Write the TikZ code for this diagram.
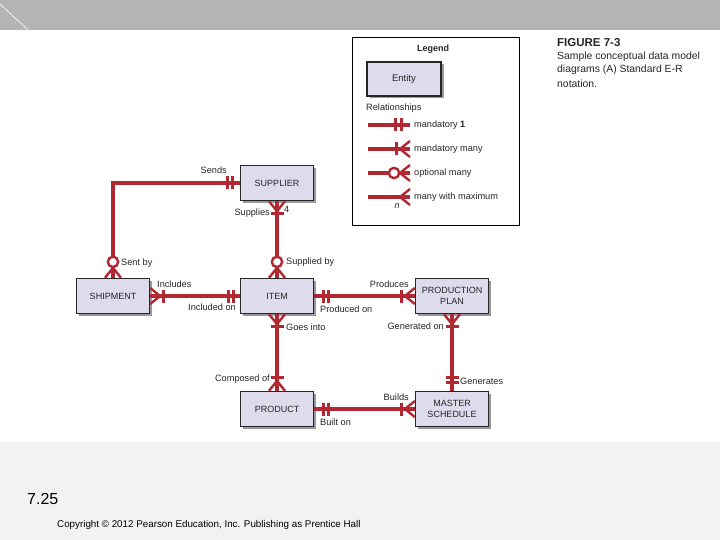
\documentclass[tikz,border=0pt]{standalone}
\usepackage{fontspec}
\setmainfont{Liberation Sans}
\usetikzlibrary{calc,shadows}
\definecolor{erred}{RGB}{178,40,50}
\definecolor{entfill}{RGB}{221,219,236}
\definecolor{topbar}{RGB}{180,180,180}
\definecolor{botbg}{RGB}{242,242,242}
% crow's foot: #1 anchor, (#2,#3) direction away from entity
\newcommand\cf[3]{\draw[foot] ($(#1)+({10*(#2)},{10*(#3)})$) -- ($(#1)+({8*(#3)},{8*(#2)})$) ($(#1)+({10*(#2)},{10*(#3)})$) -- ($(#1)+({-8*(#3)},{-8*(#2)})$);}
% bar: #1 anchor, #2 distance, (#3,#4) direction
\newcommand\rb[4]{\draw[barst] ($(#1)+({#2*(#3)+6.5*(#4)},{#2*(#4)+6.5*(#3)})$) -- ($(#1)+({#2*(#3)-6.5*(#4)},{#2*(#4)-6.5*(#3)})$);}
% circle: #1 anchor, #2 distance, (#3,#4) direction
\newcommand\oc[4]{\draw[foot, fill=white] ($(#1)+({#2*(#3)},{#2*(#4)})$) circle[radius=5.2pt];}
\begin{document}
\begin{tikzpicture}[x=1pt,y=-1pt,
  ent/.style={draw=black!85, line width=1.3pt, fill=entfill, minimum width=73pt, minimum height=35pt, inner sep=1pt, align=center, text=black!85, font=\fontsize{9}{10.5}\selectfont, drop shadow={shadow xshift=2.5pt, shadow yshift=-2.5pt, fill=black!40, opacity=1}},
  rel/.style={draw=erred, line width=3.1pt},
  foot/.style={draw=erred, line width=2.4pt},
  barst/.style={draw=erred, line width=3pt},
  lbl/.style={font=\fontsize{9.2}{10}\selectfont, inner sep=0pt, text=black!85},
  captxt/.style={font=\fontsize{10.4}{12}\selectfont, inner sep=0pt, anchor=west, text=black!85},
]
\useasboundingbox (0,0) rectangle (720,540);
% background
\fill[white] (0,0) rectangle (720,540);
\fill[topbar] (0,0) rectangle (720,30);
\draw[white!85!topbar, line width=0.8pt] (0,4) -- (28,30);
\fill[botbg] (0,442) rectangle (720,540);

% legend
\draw[black, line width=0.9pt] (352,37) rectangle (519,225);
\node[lbl, font=\bfseries\fontsize{9}{10}\selectfont] (leg) at (433,49) {Legend};
\node[ent, minimum width=74pt, minimum height=34pt, font=\fontsize{9.5}{11}\selectfont] (lent) at (404,79) {Entity};
\node[lbl, anchor=west] (lrel) at (366,108) {Relationships};
\coordinate (l1s) at (368,125); \coordinate (l1) at (410,125);
\coordinate (l2s) at (368,149); \coordinate (l2) at (410,149);
\coordinate (l3s) at (368,173); \coordinate (l3) at (410,173);
\coordinate (l4s) at (368,197); \coordinate (l4) at (410,197);
\draw[rel] (l1s) -- (l1); \rb{l1}{9}{-1}{0} \rb{l1}{15}{-1}{0}
\draw[rel] (l2s) -- (l2); \cf{l2}{-1}{0} \rb{l2}{14}{-1}{0}
\draw[rel] (l3s) -- (l3); \cf{l3}{-1}{0} \oc{l3}{16}{-1}{0}
\draw[rel] (l4s) -- (l4); \cf{l4}{-1}{0}
\node[lbl, anchor=west] at (414,125) {mandatory \textbf{1}};
\node[lbl, anchor=west] at (414,149) {mandatory many};
\node[lbl, anchor=west] at (414,173) {optional many};
\node[lbl, anchor=west] at (414,197) {many with maximum};
\node[lbl, font=\itshape\fontsize{9}{10}\selectfont] at (397,206) {n};

% caption
\node[captxt, font=\bfseries\fontsize{11.5}{13}\selectfont] at (557,43) {FIGURE 7-3};
\node[captxt] at (557,56.5) {Sample conceptual data model};
\node[captxt] at (557,70) {diagrams (A) Standard E-R};
\node[captxt] at (557,83.5) {notation.};

% entities
\node[ent] (sup) at (277,183) {SUPPLIER};
\node[ent] (shp) at (113,296) {SHIPMENT};
\node[ent] (item) at (277,296) {ITEM};
\node[ent] (pp) at (452,296) {PRODUCTION\\PLAN};
\node[ent] (prod) at (277,409) {PRODUCT};
\node[ent] (ms) at (452,409) {MASTER\\SCHEDULE};

% connectors
\draw[rel] (sup.west) -| (shp.north);
\draw[rel] (sup.south) -- (item.north);
\draw[rel] (shp.east) -- (item.west);
\draw[rel] (item.east) -- (pp.west);
\draw[rel] (item.south) -- (prod.north);
\draw[rel] (pp.south) -- (ms.north);
\draw[rel] (prod.east) -- (ms.west);

% end symbols
\rb{sup.west}{7}{-1}{0} \rb{sup.west}{12}{-1}{0}
\cf{shp.north}{0}{-1} \oc{shp.north}{16}{0}{-1}
\cf{sup.south}{0}{1} \rb{sup.south}{12}{0}{1}
\cf{item.north}{0}{-1} \oc{item.north}{16}{0}{-1}
\cf{shp.east}{1}{0} \rb{shp.east}{13}{1}{0}
\rb{item.west}{6}{-1}{0} \rb{item.west}{11}{-1}{0}
\rb{item.east}{9}{1}{0} \rb{item.east}{14}{1}{0}
\cf{pp.west}{-1}{0} \rb{pp.west}{13}{-1}{0}
\cf{item.south}{0}{1} \rb{item.south}{12}{0}{1}
\cf{prod.north}{0}{-1} \rb{prod.north}{13}{0}{-1}
\cf{pp.south}{0}{1} \rb{pp.south}{12}{0}{1}
\rb{ms.north}{8}{0}{-1} \rb{ms.north}{13}{0}{-1}
\rb{prod.east}{9}{1}{0} \rb{prod.east}{14}{1}{0}
\cf{ms.west}{-1}{0} \rb{ms.west}{13}{-1}{0}

% labels
\node[lbl, anchor=east] at (227,170) {Sends};
\node[lbl, anchor=east] at (270,213) {Supplies};
\node[lbl, anchor=west] at (284,209) {4};
\node[lbl, anchor=west] at (121,263) {Sent by};
\node[lbl, anchor=west] at (286,262) {Supplied by};
\node[lbl, anchor=west] at (157,284) {Includes};
\node[lbl, anchor=east] at (236,307) {Included on};
\node[lbl, anchor=east] at (409,284) {Produces};
\node[lbl, anchor=west] at (320,309) {Produced on};
\node[lbl, anchor=west] at (286,327) {Goes into};
\node[lbl, anchor=east] at (444,326) {Generated on};
\node[lbl, anchor=east] at (270,379) {Composed of};
\node[lbl, anchor=west] at (460,381) {Generates};
\node[lbl, anchor=east] at (409,397) {Builds};
\node[lbl, anchor=west] at (320,422) {Built on};

% footer
\node[anchor=west, inner sep=0pt, font=\fontsize{16}{18}\selectfont] (pg) at (27,499) {7.25};
\node[anchor=west, inner sep=0pt, font=\fontsize{9.8}{11}\selectfont] (cr) at (57,525) {Copyright © 2012 Pearson Education, Inc. Publishing as Prentice Hall};
\end{tikzpicture}
\end{document}
